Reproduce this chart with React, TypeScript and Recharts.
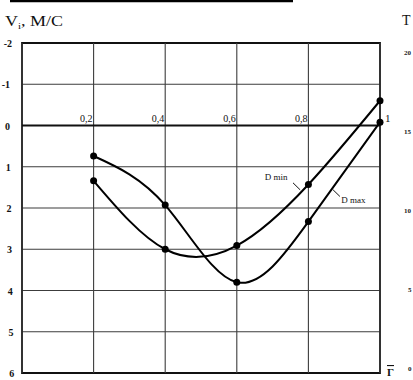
import {
  CartesianGrid,
  Line,
  LineChart,
  ReferenceArea,
  ReferenceDot,
  ReferenceLine,
  XAxis,
  YAxis,
} from 'recharts';

// Velocity Vi (m/s) against relative radius Γ̄ for the two diameters.
// Y axis runs downwards (-2 at the top, 6 at the bottom), like the source figure.

const gammaValues = [0.2, 0.4, 0.6, 0.8, 1];
const dMinValues = [1.34, 3.0, 2.91, 1.43, -0.6];
const dMaxValues = [0.74, 1.93, 3.8, 2.33, -0.08];

const xTicks = [0, 0.2, 0.4, 0.6, 0.8, 1];
const xTickLabels = ['0,2', '0,4', '0,6', '0,8', '1'];
const yTicks = [-2, -1, 0, 1, 2, 3, 4, 5, 6];
// cropped neighbour chart on the right edge
const rightTickLabels = ['20', '15', '10', '5', '0'];

const rows = gammaValues.map((g, i) => ({
  g,
  dMin: dMinValues[i],
  dMax: dMaxValues[i],
}));

const SERIF = '"Liberation Serif", "DejaVu Serif", serif';

function YTick(props: any) {
  const { x, y, payload } = props;
  const v = payload.value as number;
  const shift = v < -1 ? 2 : Math.max(0, v) * 0.7;
  return (
    <text
      x={x - 4 + shift}
      y={y + 4}
      textAnchor='end'
      fontFamily={SERIF}
      fontSize={10}
      fontWeight={700}
      fill='#111'
    >
      {v}
    </text>
  );
}

function xLabel(text: string, last: boolean) {
  return (props: any) => {
    const { viewBox } = props;
    const cx = viewBox.x + viewBox.width / 2;
    const cy = viewBox.y + viewBox.height / 2;
    return (
      <text
        x={last ? cx + 5 : cx - 1}
        y={cy - 4}
        textAnchor={last ? 'start' : 'end'}
        fontFamily={SERIF}
        fontSize={last ? 11 : 10}
        fill='#111'
      >
        {text}
      </text>
    );
  };
}

function noteLabel(text: string, anchor: 'start' | 'end') {
  return (props: any) => {
    const { viewBox } = props;
    const cx = viewBox.x + viewBox.width / 2;
    const cy = viewBox.y + viewBox.height / 2;
    return (
      <text
        x={cx}
        y={cy + 3}
        textAnchor={anchor}
        fontFamily={SERIF}
        fontSize={9}
        fill='#111'
      >
        {text}
      </text>
    );
  };
}

export default function App() {
  return (
    <div
      style={{
        position: 'absolute',
        left: 0,
        top: 0,
        width: 413,
        height: 380,
        background: '#fff',
        overflow: 'hidden',
      }}
    >
      <LineChart
        width={413}
        height={380}
        data={rows}
        margin={{ top: 43, right: 33, bottom: 7, left: 0 }}
      >
        <CartesianGrid stroke='#3c3c3c' strokeWidth={1.1} vertical={false} />
        <XAxis
          dataKey='g'
          type='number'
          domain={[0, 1]}
          ticks={xTicks}
          tick={false}
          tickLine={false}
          axisLine={false}
          height={0}
        />
        <YAxis
          type='number'
          domain={[-2, 6]}
          ticks={yTicks}
          reversed
          width={22}
          tick={<YTick />}
          tickLine={false}
          axisLine={false}
          interval={0}
        />
        {xTicks.map((t) => (
          <ReferenceLine key={`v${t}`} x={t} stroke='#3c3c3c' strokeWidth={1.1} />
        ))}
        <ReferenceArea
          x1={0}
          x2={1}
          y1={-2}
          y2={6}
          fill='none'
          stroke='#111'
          strokeWidth={1.8}
          ifOverflow='visible'
        />
        <ReferenceLine y={0} stroke='#111' strokeWidth={1.8} />
        {gammaValues.map((g, i) => (
          <ReferenceDot
            key={g}
            x={g}
            y={0}
            r={0}
            fill='none'
            stroke='none'
            label={xLabel(xTickLabels[i], i === gammaValues.length - 1)}
          />
        ))}
        <ReferenceLine
          segment={[
            { x: 0.757, y: 1.39 },
            { x: 0.777, y: 1.56 },
          ]}
          stroke='#111'
          strokeWidth={1}
        />
        <ReferenceLine
          segment={[
            { x: 0.869, y: 1.56 },
            { x: 0.888, y: 1.72 },
          ]}
          stroke='#111'
          strokeWidth={1}
        />
        <ReferenceDot
          x={0.742}
          y={1.26}
          r={0}
          fill='none'
          stroke='none'
          label={noteLabel('D min', 'end')}
        />
        <ReferenceDot
          x={0.892}
          y={1.8}
          r={0}
          fill='none'
          stroke='none'
          label={noteLabel('D max', 'start')}
        />
        <Line
          type='natural'
          dataKey='dMin'
          stroke='#000'
          strokeWidth={2}
          dot={{ r: 3.5, fill: '#000', stroke: '#000', strokeWidth: 0 }}
          isAnimationActive={false}
        />
        <Line
          type='natural'
          dataKey='dMax'
          stroke='#000'
          strokeWidth={2}
          dot={{ r: 3.5, fill: '#000', stroke: '#000', strokeWidth: 0 }}
          isAnimationActive={false}
        />
      </LineChart>
      <svg
        width={413}
        height={380}
        style={{ position: 'absolute', left: 0, top: 0, pointerEvents: 'none' }}
      >
        <line x1={10} y1={1} x2={293} y2={1} stroke='#000' strokeWidth={2.5} />
        <text
          x={5}
          y={26}
          fontFamily={SERIF}
          fontSize={15}
          fill='#111'
          textLength={58}
          lengthAdjust='spacingAndGlyphs'
        >
          V
          <tspan fontSize={9} dy={3}>
            i
          </tspan>
          <tspan dy={-3}>, M/C</tspan>
        </text>
        <text x={402} y={25} fontFamily={SERIF} fontSize={14} fill='#111'>
          T
        </text>
        {rightTickLabels.map((t, i) => (
          <text
            key={t}
            x={404 + (t.length === 1 ? 4 : 0)}
            y={55 + i * 79}
            fontFamily={SERIF}
            fontSize={7}
            fontWeight={700}
            fill='#222'
          >
            {t}
          </text>
        ))}
        <text
          x={387}
          y={376}
          fontFamily={SERIF}
          fontSize={11}
          fontWeight={700}
          fill='#111'
          textDecoration='overline'
        >
          Γ
        </text>
      </svg>
    </div>
  );
}
